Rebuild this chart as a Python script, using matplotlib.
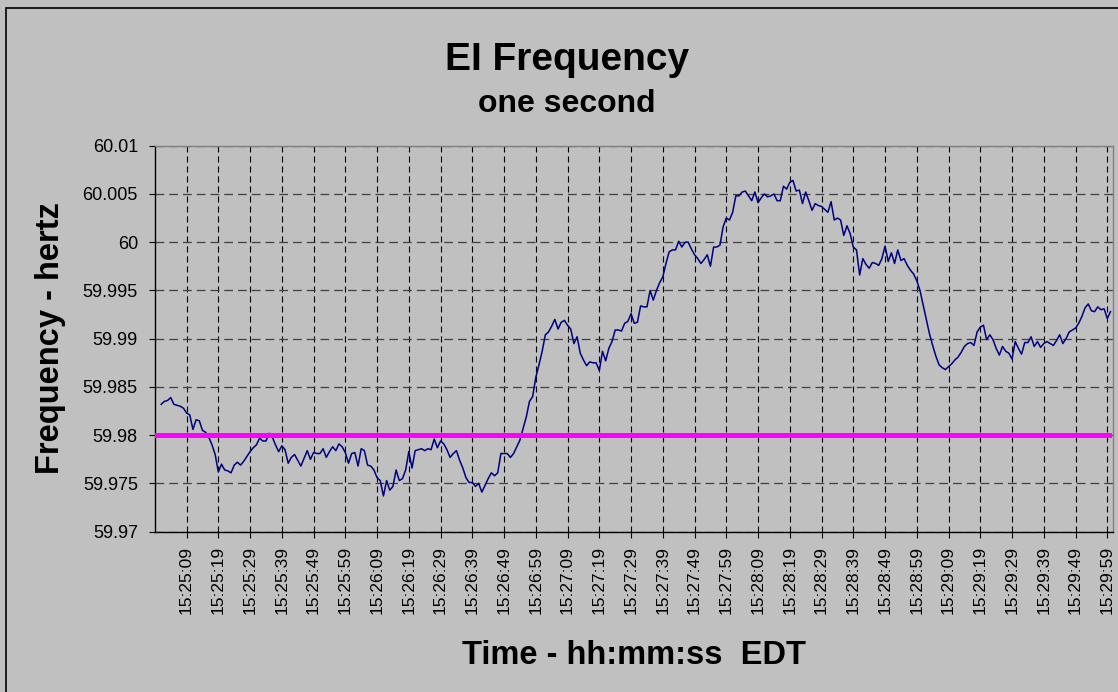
import numpy as np
import matplotlib
matplotlib.use("Agg")
import matplotlib.pyplot as plt
from matplotlib.patches import Rectangle

plt.rcParams['font.family'] = ['Liberation Sans', 'DejaVu Sans']

# one-second frequency readings, 15:25:01 .. 15:30:00 (Hz)
freq = [
    59.9832, 59.9835, 59.9836, 59.9839, 59.9832, 59.9831, 59.9830, 59.9828, 59.9823, 59.9821,
    59.9806, 59.9816, 59.9815, 59.9805, 59.9803, 59.9798, 59.9790, 59.9780, 59.9762, 59.9770,
    59.9764, 59.9763, 59.9761, 59.9769, 59.9772, 59.9769, 59.9773, 59.9778, 59.9783, 59.9787,
    59.9790, 59.9797, 59.9794, 59.9794, 59.9802, 59.9798, 59.9790, 59.9783, 59.9789, 59.9785,
    59.9771, 59.9777, 59.9780, 59.9774, 59.9768, 59.9776, 59.9784, 59.9775, 59.9782, 59.9781,
    59.9781, 59.9786, 59.9777, 59.9783, 59.9788, 59.9784, 59.9791, 59.9788, 59.9782, 59.9771,
    59.9781, 59.9782, 59.9768, 59.9786, 59.9784, 59.9769, 59.9768, 59.9764, 59.9756, 59.9753,
    59.9737, 59.9753, 59.9743, 59.9747, 59.9764, 59.9753, 59.9755, 59.9764, 59.9783, 59.9766,
    59.9784, 59.9785, 59.9786, 59.9784, 59.9786, 59.9785, 59.9796, 59.9787, 59.9794, 59.9791,
    59.9785, 59.9777, 59.9781, 59.9784, 59.9774, 59.9766, 59.9756, 59.9751, 59.9751, 59.9747,
    59.9750, 59.9741, 59.9748, 59.9755, 59.9761, 59.9758, 59.9761, 59.9781, 59.9781, 59.9781,
    59.9777, 59.9781, 59.9788, 59.9795, 59.9807, 59.9819, 59.9835, 59.9840, 59.9860, 59.9873,
    59.9887, 59.9904, 59.9907, 59.9913, 59.9920, 59.9910, 59.9917, 59.9919, 59.9914, 59.9910,
    59.9895, 59.9902, 59.9885, 59.9878, 59.9872, 59.9876, 59.9875, 59.9875, 59.9867, 59.9887,
    59.9877, 59.9890, 59.9897, 59.9909, 59.9909, 59.9908, 59.9916, 59.9918, 59.9926, 59.9916,
    59.9917, 59.9934, 59.9933, 59.9933, 59.9950, 59.9940, 59.9950, 59.9958, 59.9964, 59.9978,
    59.9990, 59.9992, 59.9992, 60.0001, 59.9995, 60.0000, 60.0000, 59.9993, 59.9987, 59.9983,
    59.9978, 59.9982, 59.9987, 59.9975, 59.9995, 59.9995, 59.9997, 60.0016, 60.0025, 60.0023,
    60.0031, 60.0048, 60.0048, 60.0052, 60.0053, 60.0048, 60.0043, 60.0052, 60.0041, 60.0046,
    60.0050, 60.0047, 60.0048, 60.0050, 60.0043, 60.0043, 60.0058, 60.0055, 60.0062, 60.0064,
    60.0053, 60.0054, 60.0040, 60.0052, 60.0043, 60.0033, 60.0040, 60.0038, 60.0037, 60.0034,
    60.0031, 60.0042, 60.0023, 60.0025, 60.0023, 60.0007, 60.0017, 60.0009, 59.9995, 59.9992,
    59.9966, 59.9983, 59.9977, 59.9973, 59.9979, 59.9978, 59.9976, 59.9983, 59.9996, 59.9980,
    59.9989, 59.9978, 59.9992, 59.9981, 59.9983, 59.9976, 59.9971, 59.9967, 59.9960, 59.9950,
    59.9935, 59.9920, 59.9905, 59.9893, 59.9882, 59.9873, 59.9870, 59.9868, 59.9871, 59.9874,
    59.9878, 59.9881, 59.9886, 59.9892, 59.9895, 59.9896, 59.9893, 59.9907, 59.9912, 59.9914,
    59.9899, 59.9904, 59.9899, 59.9890, 59.9883, 59.9892, 59.9887, 59.9885, 59.9879, 59.9897,
    59.9890, 59.9884, 59.9896, 59.9896, 59.9902, 59.9892, 59.9897, 59.9891, 59.9895, 59.9897,
    59.9895, 59.9893, 59.9898, 59.9904, 59.9895, 59.9900, 59.9907, 59.9909, 59.9911, 59.9916,
    59.9923, 59.9932, 59.9936, 59.9929, 59.9928, 59.9933, 59.9930, 59.9931, 59.9921, 59.9928,
]
limit_hz = 59.98

x_labels = ["15:25:09", "15:25:19", "15:25:29", "15:25:39", "15:25:49", "15:25:59",
            "15:26:09", "15:26:19", "15:26:29", "15:26:39", "15:26:49", "15:26:59",
            "15:27:09", "15:27:19", "15:27:29", "15:27:39", "15:27:49", "15:27:59",
            "15:28:09", "15:28:19", "15:28:29", "15:28:39", "15:28:49", "15:28:59",
            "15:29:09", "15:29:19", "15:29:29", "15:29:39", "15:29:49", "15:29:59"]
y_ticks = [59.97, 59.975, 59.98, 59.985, 59.99, 59.995, 60.0, 60.005, 60.01]
y_labels = ["59.97", "59.975", "59.98", "59.985", "59.99", "59.995", "60", "60.005", "60.01"]

# seconds after 15:25:00
sec = np.arange(1, len(freq) + 1)
x_ticks = [int(s[3:5]) * 60 + int(s[6:8]) - 25 * 60 for s in x_labels]

bg = '#c0c0c0'
fig = plt.figure(figsize=(11.18, 6.92), dpi=100, facecolor=bg)
fig.patches.append(Rectangle((6 / 1118, -0.05), 1.1, 1 - 8 / 692 + 0.05,
                             transform=fig.transFigure, fill=False,
                             edgecolor='black', lw=1.2))

ax = fig.add_axes([155 / 1118, 1 - 531.7 / 692, 958 / 1118, 386 / 692])
ax.set_facecolor(bg)

ax.plot(sec, freq, color='#000080', lw=1.1, zorder=3)
ax.axhline(limit_hz, xmin=0, xmax=0.9955, color='#ff00ff', lw=3.6, zorder=4)

ax.set_xlim(-0.95, 300.8)
ax.set_ylim(59.97, 60.01)

ax.set_xticks(x_ticks)
ax.set_xticklabels(x_labels, rotation=90, fontsize=12.5)
ax.set_yticks(y_ticks)
ax.set_yticklabels(y_labels, fontsize=13)
ax.tick_params(axis='both', direction='out', length=4.3, width=0.8, color='black')
ax.tick_params(axis='x', pad=6)
ax.tick_params(axis='y', pad=8)

ax.set_axisbelow(True)
ax.xaxis.grid(True, color='black', lw=0.8, linestyle=(0, (5.5, 3.5)))
ax.yaxis.grid(True, color='#404040', lw=0.9, linestyle=(0, (7, 4)))

for side in ['top', 'right']:
    ax.spines[side].set_color('#808080')
    ax.spines[side].set_linewidth(1)
for side in ['left', 'bottom']:
    ax.spines[side].set_color('black')
    ax.spines[side].set_linewidth(1)

fig.text(567 / 1118, 1 - 60 / 692, 'EI Frequency', ha='center', va='center',
         fontsize=28, fontweight='bold')
fig.text(567 / 1118, 1 - 104 / 692, 'one second', ha='center', va='center',
         fontsize=23, fontweight='bold')
fig.text(50 / 1118, 1 - 338 / 692, 'Frequency - hertz', ha='center', va='center',
         rotation=90, fontsize=23.5, fontweight='bold')
fig.text(634 / 1118, 1 - 656 / 692, 'Time - hh:mm:ss  EDT', ha='center', va='center',
         fontsize=23.5, fontweight='bold')

fig.savefig('out.png', dpi=100, facecolor=bg)
